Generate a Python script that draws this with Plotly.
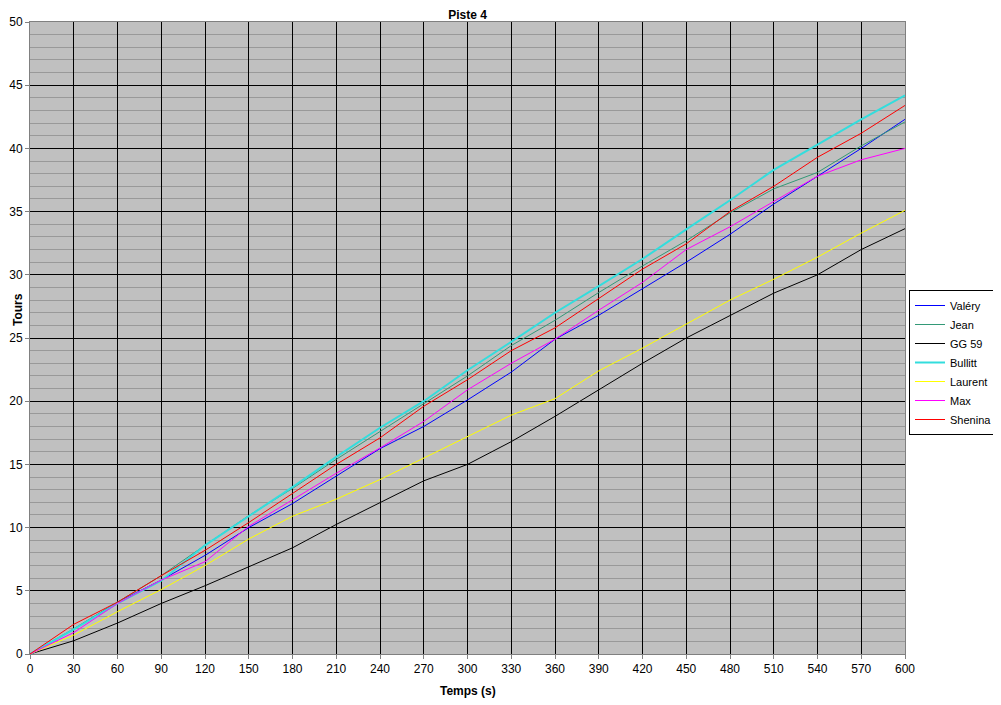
import plotly.graph_objects as go

temps = [0, 30, 60, 90, 120, 150, 180, 210, 240, 270, 300, 330, 360, 390, 420, 450, 480, 510, 540, 570, 600]

valery  = [0, 1.95, 4.1, 5.85, 7.8, 10.0, 11.9, 14.1, 16.25, 18.0, 20.1, 22.3, 24.9, 26.8, 28.9, 31.0, 33.2, 35.6, 37.8, 40.0, 42.3]
jean    = [0, 2.0, 4.1, 6.2, 8.6, 10.95, 13.1, 15.4, 17.6, 19.8, 22.0, 24.4, 26.4, 28.6, 30.7, 32.7, 34.9, 36.8, 38.1, 40.2, 42.1]
gg59    = [0, 1.05, 2.45, 4.0, 5.4, 6.9, 8.4, 10.25, 12.0, 13.7, 15.0, 16.8, 18.8, 20.9, 23.0, 25.0, 26.8, 28.55, 30.0, 32.0, 33.65]
bullitt = [0, 1.95, 4.0, 5.8, 8.6, 10.9, 13.2, 15.6, 17.9, 20.0, 22.45, 24.7, 27.0, 29.1, 31.25, 33.6, 35.9, 38.3, 40.3, 42.3, 44.2]
laurent = [0, 1.5, 3.35, 5.1, 7.0, 9.1, 10.9, 12.25, 13.8, 15.5, 17.2, 18.9, 20.2, 22.4, 24.2, 26.1, 28.0, 29.65, 31.4, 33.3, 35.1]
max_    = [0, 1.7, 4.0, 5.85, 7.3, 10.1, 12.2, 14.3, 16.3, 18.4, 20.9, 23.0, 24.9, 27.2, 29.4, 32.0, 33.8, 35.8, 37.8, 39.1, 40.0]
shenina = [0, 2.35, 4.1, 6.2, 8.2, 10.4, 12.7, 15.0, 17.1, 19.6, 21.7, 24.0, 25.8, 28.1, 30.45, 32.45, 35.0, 37.0, 39.3, 41.2, 43.4]

names = ["Valéry", "Jean", "GG 59", "Bullitt", "Laurent", "Max", "Shenina"]
series = [valery, jean, gg59, bullitt, laurent, max_, shenina]
colors = ["#0000FF", "#339977", "#000000", "#33DDDD", "#FFFF00", "#FF00FF", "#FF0000"]
widths = [1, 1, 1, 2, 1, 1, 1]

fig = go.Figure()
for n, s, c, w in zip(names, series, colors, widths):
    fig.add_trace(go.Scatter(x=temps, y=s, mode="lines", name=n,
                             line=dict(color=c, width=w)))

# page body has an 8px margin: figure spans page pixels 8..1001, 8..705
W, H = 993, 697
font = "Arial, Liberation Sans, sans-serif"
fig.update_layout(
    width=W, height=H,
    margin=dict(l=22, r=96, t=14, b=51, autoexpand=False),
    paper_bgcolor="white",
    plot_bgcolor="#C0C0C0",
    font=dict(family=font, size=12, color="black"),
    showlegend=True,
    title=dict(text="<b>Piste 4</b>", x=0.5, xref="paper", xanchor="center",
               y=1 - 7 / H, yref="container", yanchor="middle",
               font=dict(size=12, family=font, color="black")),
    legend=dict(x=(909 - 30) / 875, y=(654 - 290) / 632, xanchor="left", yanchor="top",
                bgcolor="white", bordercolor="black", borderwidth=1,
                font=dict(size=11, family=font), itemwidth=30,
                tracegroupgap=0),
    xaxis=dict(range=[0, 600], dtick=30, tick0=0, showgrid=True, gridcolor="black", gridwidth=1,
               zeroline=False, showline=True, linecolor="#808080", linewidth=1, mirror=True,
               ticks="outside", ticklen=4, tickcolor="#808080", automargin=False,
               tickfont=dict(size=12, family=font)),
    yaxis=dict(range=[0, 50], dtick=5, tick0=0, showgrid=True, gridcolor="black", gridwidth=1,
               zeroline=False, showline=True, linecolor="#808080", linewidth=1, mirror=True,
               ticks="outside", ticklen=4, tickcolor="#808080", automargin=False,
               tickfont=dict(size=12, family=font),
               minor=dict(dtick=1, showgrid=True, gridcolor="#999999", gridwidth=1, ticks="")),
    annotations=[
        dict(text="<b>Tours</b>", x=(18 - 30) / 875, y=(654 - 310) / 632, xref="paper", yref="paper",
             textangle=-90, showarrow=False, xanchor="center", yanchor="middle",
             font=dict(size=12, family=font)),
        dict(text="<b>Temps (s)</b>", x=(468 - 30) / 875, y=(654 - 691) / 632, xref="paper", yref="paper",
             showarrow=False, xanchor="center", yanchor="middle",
             font=dict(size=12, family=font)),
    ],
)

fig.write_html("out.html")
